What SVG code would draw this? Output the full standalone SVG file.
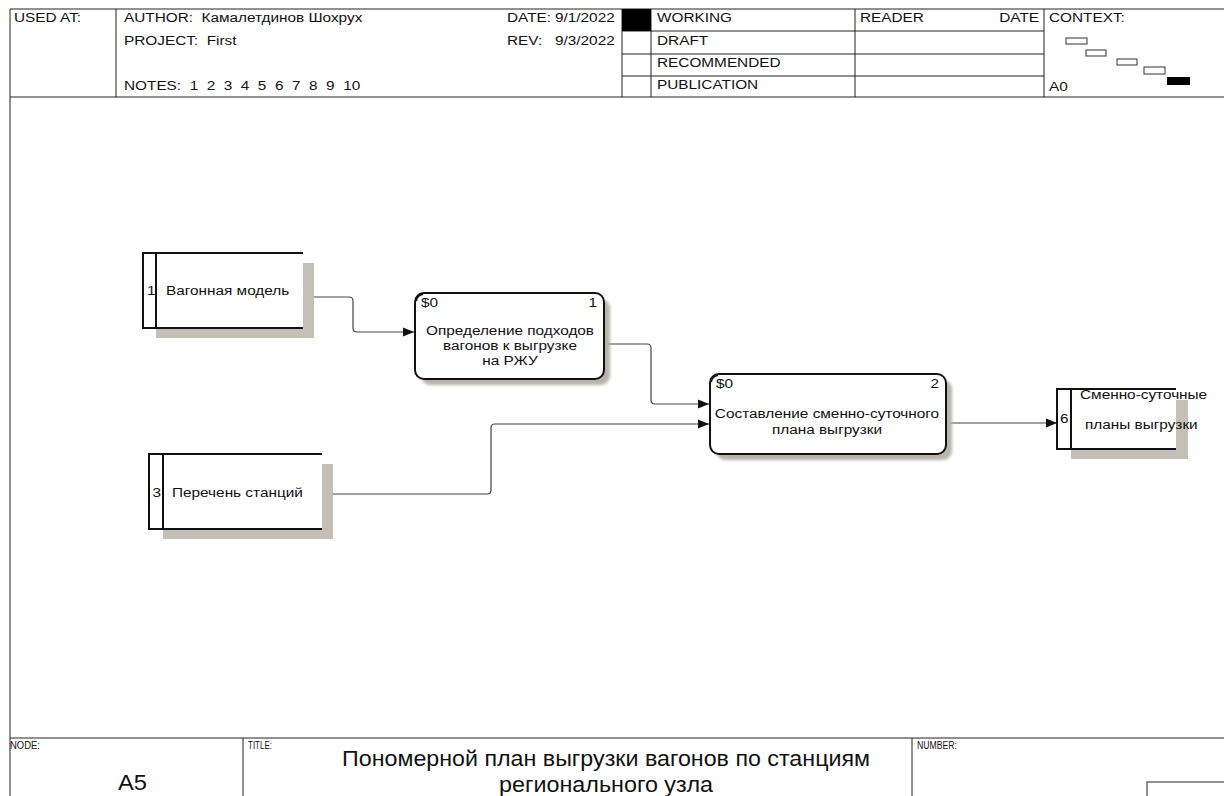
<svg xmlns="http://www.w3.org/2000/svg" width="1224" height="796" viewBox="0 0 1224 796">
<style>
  .t { font-family: "Liberation Sans", Arial, sans-serif; font-size: 12px; fill: #111; white-space: pre; }
  .m { text-anchor: middle; }
  .e { text-anchor: end; }
  .lbl { font-size: 10px; }
  .big { font-size: 22px; }
  .frame { fill: none; stroke: #222; stroke-width: 1; }
  .box { fill: #fff; stroke: #111; stroke-width: 2; }
  .bl { stroke: #111; stroke-width: 2; fill: none; }
  .shadow { fill: #c4c0b8; }
  .pshadow { fill: #b8b4ac; filter: url(#blur); }
  .conn { fill: none; stroke: #444; stroke-width: 1.2; }
</style>
<defs>
  <marker id="arr" markerWidth="12" markerHeight="10" refX="11" refY="5" orient="auto" markerUnits="userSpaceOnUse">
    <path d="M0,0.5 L11,5 L0,9.5 Z" fill="#111"/>
  </marker>
  <filter id="blur" x="-10%" y="-10%" width="120%" height="120%">
    <feGaussianBlur stdDeviation="1.5"/>
  </filter>
</defs>
<rect width="1224" height="796" fill="#fff"/>

<g id="header">
  <path class="frame" d="M10,796 V9 H1230 M10,97 H1230 M116,9 V97 M622,9 V97 M651,9 V97 M855,9 V97 M1044,9 V97 M622,31 H1044 M622,54 H1044 M622,76 H1044"/>
  <rect x="622" y="9" width="29" height="22" fill="#000"/>
  <text class="t" transform="matrix(1.28 0 0 1 14 22)">USED AT:</text>
  <text class="t" xml:space="preserve" transform="matrix(1.28 0 0 1 124 22)">AUTHOR:  Камалетдинов Шохрух</text>
  <text class="t" xml:space="preserve" transform="matrix(1.28 0 0 1 124 45)">PROJECT:  First</text>
  <text class="t" xml:space="preserve" transform="matrix(1.28 0 0 1 124 90)">NOTES:  1  2  3  4  5  6  7  8  9  10</text>
  <text class="t" transform="matrix(1.28 0 0 1 507 22)">DATE:</text>
  <text class="t" transform="matrix(1.28 0 0 1 555 22)">9/1/2022</text>
  <text class="t" transform="matrix(1.28 0 0 1 507 45)">REV:</text>
  <text class="t" transform="matrix(1.28 0 0 1 555 45)">9/3/2022</text>
  <text class="t" transform="matrix(1.28 0 0 1 657 22)">WORKING</text>
  <text class="t" transform="matrix(1.28 0 0 1 657 45)">DRAFT</text>
  <text class="t" transform="matrix(1.28 0 0 1 657 67)">RECOMMENDED</text>
  <text class="t" transform="matrix(1.28 0 0 1 657 89)">PUBLICATION</text>
  <text class="t" transform="matrix(1.28 0 0 1 860 22)">READER</text>
  <text class="t e" transform="matrix(1.28 0 0 1 1039 22)">DATE</text>
  <text class="t" transform="matrix(1.28 0 0 1 1049 22)">CONTEXT:</text>
  <text class="t" transform="matrix(1.28 0 0 1 1049 91)">A0</text>
  <g fill="#fff" stroke="#333" stroke-width="1">
    <rect x="1066" y="38" width="21" height="6"/>
    <rect x="1086" y="50" width="20" height="6"/>
    <rect x="1117" y="59" width="20" height="6"/>
    <rect x="1144" y="67" width="21" height="7"/>
  </g>
  <rect x="1167" y="77" width="23" height="8" fill="#000"/>
</g>

<g id="footer">
  <path class="frame" d="M10,738 H1230 M243,738 V796 M912,738 V796"/>
  <rect x="1147" y="782" width="90" height="30" fill="none" stroke="#222"/>
  <text class="t lbl" x="10" y="749" textLength="30" lengthAdjust="spacingAndGlyphs">NODE:</text>
  <text class="t lbl" x="248" y="749" textLength="24" lengthAdjust="spacingAndGlyphs">TITLE:</text>
  <text class="t lbl" x="917" y="749" textLength="40" lengthAdjust="spacingAndGlyphs">NUMBER:</text>
  <text class="t big" x="118" y="790" textLength="29" lengthAdjust="spacingAndGlyphs">A5</text>
  <text class="t big" x="342" y="766" textLength="528" lengthAdjust="spacingAndGlyphs">Пономерной план выгрузки вагонов по станциям</text>
  <text class="t big" x="499" y="792" textLength="214" lengthAdjust="spacingAndGlyphs">регионального узла</text>
</g>

<g id="connectors">
  <path class="conn" d="M303,297 H349 Q353,297 353,301 V328 Q353,332 357,332 H414" marker-end="url(#arr)"/>
  <path class="conn" d="M604,344 H647 Q651,344 651,348 V400 Q651,404 655,404 H709" marker-end="url(#arr)"/>
  <path class="conn" d="M321,494 H487 Q491,494 491,490 V428 Q491,424 495,424 H709" marker-end="url(#arr)"/>
  <path class="conn" d="M946,423 H1057" marker-end="url(#arr)"/>
</g>

<g id="node-1">
  <rect class="shadow" x="156" y="263" width="158" height="75"/>
  <rect x="143" y="253" width="160" height="75" fill="#fff"/>
  <path class="bl" d="M303,253 H143 V328 H303 M156,253 V328"/>
  <text class="t" transform="matrix(1.28 0 0 1 147 295)">1</text>
  <text class="t" transform="matrix(1.28 0 0 1 166 295)">Вагонная модель</text>
</g>

<g id="node-3">
  <rect class="shadow" x="163" y="464" width="170" height="75"/>
  <rect x="149" y="454" width="173" height="75" fill="#fff"/>
  <path class="bl" d="M322,454 H149 V529 H322 M163,454 V529"/>
  <text class="t" transform="matrix(1.28 0 0 1 152.5 497)">3</text>
  <text class="t" transform="matrix(1.28 0 0 1 172 497)">Перечень станций</text>
</g>

<g id="node-6">
  <rect class="shadow" x="1071" y="400" width="117" height="59"/>
  <rect x="1057" y="389" width="119" height="60" fill="#fff"/>
  <path class="bl" d="M1176,389 H1057 V449 H1176 M1071,389 V449"/>
  <text class="t" transform="matrix(1.28 0 0 1 1060 423)">6</text>
  <text class="t" transform="matrix(1.28 0 0 1 1080 399)">Сменно-суточные</text>
  <text class="t" transform="matrix(1.28 0 0 1 1085 429)">планы выгрузки</text>
</g>

<g id="process-1">
  <rect class="pshadow" x="421" y="299" width="189" height="86" rx="9"/>
  <rect class="box" x="415" y="293" width="189" height="86" rx="9"/>
  <path d="M416,301 Q417,295 423,294" fill="none" stroke="#111" stroke-width="2"/>
  <text class="t" transform="matrix(1.28 0 0 1 421 307)">$0</text>
  <text class="t e" transform="matrix(1.28 0 0 1 597 307)">1</text>
  <text class="t m" transform="matrix(1.28 0 0 1 510 335)">Определение подходов</text>
  <text class="t m" transform="matrix(1.28 0 0 1 510 350)">вагонов к выгрузке</text>
  <text class="t m" transform="matrix(1.28 0 0 1 510 365)">на РЖУ</text>
</g>

<g id="process-2">
  <rect class="pshadow" x="716" y="380" width="236" height="80" rx="9"/>
  <rect class="box" x="710" y="374" width="236" height="80" rx="9"/>
  <path d="M711,382 Q712,376 718,375" fill="none" stroke="#111" stroke-width="2"/>
  <text class="t" transform="matrix(1.28 0 0 1 716 388)">$0</text>
  <text class="t e" transform="matrix(1.28 0 0 1 939 388)">2</text>
  <text class="t m" transform="matrix(1.28 0 0 1 827 418)">Составление сменно-суточного</text>
  <text class="t m" transform="matrix(1.28 0 0 1 827 434)">плана выгрузки</text>
</g>
</svg>
